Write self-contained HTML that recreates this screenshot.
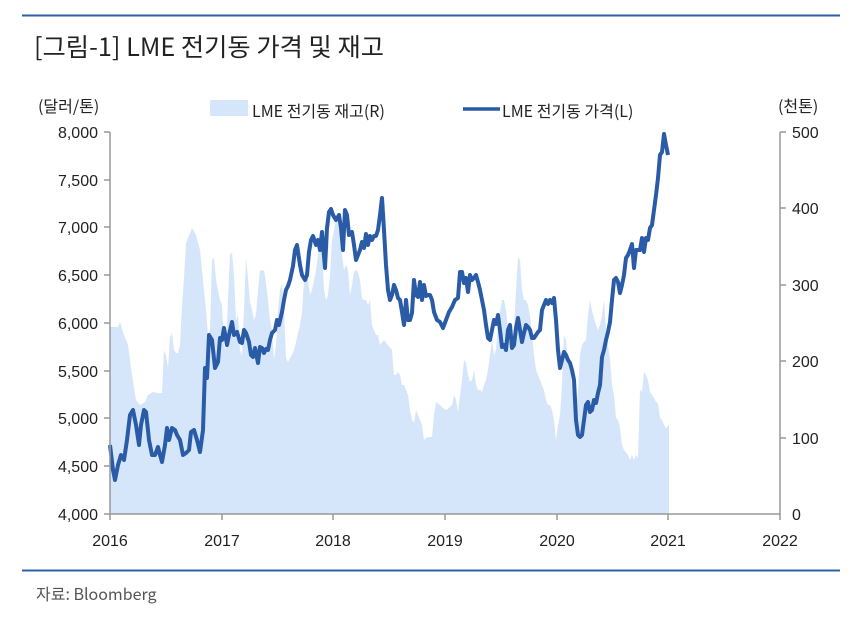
<!DOCTYPE html>
<html><head><meta charset="utf-8"><style>
body{margin:0;background:#fff;}
svg text{font-family:"Liberation Sans","Noto Sans CJK KR",sans-serif;fill:#222;}
</style></head><body>
<svg width="864" height="621" viewBox="0 0 864 621" xmlns="http://www.w3.org/2000/svg">
<line x1="22" y1="15.5" x2="840" y2="15.5" stroke="#2e5fa6" stroke-width="2"/>
<line x1="22" y1="570.5" x2="840" y2="570.5" stroke="#2e5fa6" stroke-width="2"/>
<text x="34" y="56" font-size="25" style="font-family:'Noto Sans CJK KR',sans-serif" textLength="350" lengthAdjust="spacingAndGlyphs">[그림-1] LME 전기동 가격 및 재고</text>
<text x="36" y="600" font-size="16" fill="#555" style="fill:#555;font-family:'Noto Sans CJK KR',sans-serif">자료: Bloomberg</text>
<text x="38" y="112" font-size="16" style="font-family:'Noto Sans CJK KR',sans-serif">(달러/톤)</text>
<text x="778" y="112" font-size="16" style="font-family:'Noto Sans CJK KR',sans-serif">(천톤)</text>
<rect x="210" y="100" width="38" height="16" fill="#d5e6fb"/>
<text x="252" y="117" font-size="16" style="font-family:'Noto Sans CJK KR',sans-serif">LME 전기동 재고(R)</text>
<line x1="463" y1="109" x2="500" y2="109" stroke="#2a5ba6" stroke-width="3.5"/>
<text x="502" y="117" font-size="16" style="font-family:'Noto Sans CJK KR',sans-serif">LME 전기동 가격(L)</text>
<polygon fill="#d5e6fb" points="110,514 110,327 118,327 120,322 124,335 128,345 132,375 136,400 140,405 145,402 148,395 153,392 158,393 162,393 164,350 166,355 168,368 170,337 172,333 174,350 176,353 178,353 180,345 182,305 184,278 186,243 188,238 192,228 196,235 200,250 203,280 206,310 208,335 210,330 212,260 214,258 216,280 218,290 220,300 222,305 224,345 226,350 228,298 230,255 232,252 234,275 236,320 238,315 240,350 242,355 244,310 246,258 248,278 250,302 252,310 254,320 256,315 258,290 260,270 262,271 264,270 266,283 268,300 270,320 272,330 274,360 276,345 278,310 280,290 282,283 284,310 286,358 288,362 290,358 292,355 294,350 296,342 298,333 300,325 302,312 304,280 306,270 308,280 310,295 312,290 314,280 316,270 318,255 320,232 322,250 324,290 326,300 328,295 330,275 332,240 334,230 336,220 338,222 340,225 342,255 344,270 346,265 348,270 350,295 352,285 354,272 356,270 358,272 360,280 362,298 364,300 366,300 368,305 370,300 372,325 374,330 376,335 378,335 380,345 384,340 388,345 392,350 394,375 396,375 398,372 400,375 402,385 404,385 406,390 408,395 410,410 412,420 414,423 416,410 418,415 420,420 422,425 424,440 426,438 428,437 432,437 434,415 436,402 440,405 443,408 446,410 449,408 452,405 454,395 456,400 458,412 460,395 462,380 464,360 466,362 468,375 470,382 472,380 474,370 476,385 478,390 480,390 482,392 484,385 486,380 488,370 490,355 492,340 494,355 496,350 498,325 500,312 502,300 504,300 506,310 508,330 510,340 512,350 514,330 516,290 518,258 520,260 522,290 524,300 526,300 528,305 530,315 532,335 534,355 536,370 538,375 540,380 542,385 544,390 546,400 548,405 550,405 552,410 554,420 556,440 558,425 560,415 562,385 564,335 566,340 568,360 570,365 572,390 574,400 576,410 578,390 580,355 582,345 584,342 586,340 588,315 590,300 592,310 594,318 596,325 598,330 600,325 602,315 604,300 606,330 608,345 610,360 612,385 614,395 616,418 618,420 620,428 622,445 624,450 628,455 630,460 632,455 634,460 636,455 638,458 640,390 642,392 644,372 646,375 648,380 650,392 652,395 654,398 656,402 658,403 660,418 662,420 664,425 666,428 669,425 669,514"/>
<polyline fill="none" stroke="#2a5ba6" stroke-width="4" stroke-linejoin="round" points="110,445 113,470 115,480 118,465 121,455 124,460 127,440 130,415 133,410 136,425 139,445 141,425 144,410 146,412 149,440 152,455 155,455 158,447 160,455 162,462 165,445 167,428 169,440 172,428 175,430 177,435 180,440 183,455 186,453 189,450 191,432 194,430 197,440 200,452 203,430 205,368 207,378 209,335 212,340 215,368 218,362 220,338 222,340 224,328 227,345 229,335 232,322 234,335 237,332 240,342 242,343 244,330 246,333 249,342 251,355 253,357 255,348 258,363 260,347 262,348 264,353 266,349 268,350 270,340 272,333 275,330 277,320 279,325 282,312 284,300 286,290 288,286 290,280 293,266 295,250 297,245 300,265 302,275 305,280 307,275 309,252 311,240 313,236 316,245 318,240 320,250 322,232 325,268 327,228 329,212 331,209 333,215 336,220 339,215 341,228 343,250 345,210 347,215 349,235 352,232 354,245 356,260 358,255 360,250 362,242 364,248 366,234 368,245 370,236 372,240 374,236 376,236 378,230 380,215 382,198 384,230 386,265 388,290 390,300 392,295 394,285 396,290 398,298 400,300 402,312 404,325 406,300 408,320 410,320 412,313 414,280 416,295 418,297 420,282 422,300 424,285 426,296 428,295 430,295 432,300 434,312 437,320 440,322 443,328 446,320 449,312 452,307 455,300 458,298 460,272 462,272 464,283 466,278 468,292 470,275 472,280 474,278 476,275 478,282 480,290 482,300 484,310 486,325 488,338 490,340 492,330 494,320 496,324 498,315 500,330 502,347 504,345 506,350 508,330 510,325 512,348 514,345 516,328 518,318 520,330 522,342 524,333 526,325 528,327 530,330 532,338 534,338 536,335 538,332 540,330 542,310 544,305 546,300 548,304 550,300 552,303 554,298 556,320 558,350 560,368 562,360 564,352 566,355 568,360 570,363 572,370 574,380 576,420 578,435 580,437 582,435 584,420 586,405 588,402 590,412 592,410 594,400 596,403 598,393 600,385 602,357 604,350 606,340 608,332 610,322 612,300 614,280 616,278 618,282 620,293 622,285 624,275 626,258 628,255 630,250 632,244 634,268 636,250 638,250 640,250 642,238 644,252 646,238 648,240 650,228 652,225 654,210 656,195 658,178 660,155 662,152 664,134 666,145 668,155"/>
<g stroke="#999" stroke-width="1.5" fill="none">
<path d="M110,132 V514 H780 V132"/>
<path d="M104,132H110 M104,180H110 M104,227H110 M104,275H110 M104,323H110 M104,371H110 M104,418H110 M104,466H110 M104,514H110"/>
<path d="M780,132H786 M780,208H786 M780,285H786 M780,361H786 M780,438H786"/>
<path d="M110,514V520 M222,514V520 M333,514V520 M445,514V520 M557,514V520 M668,514V520 M780,514V520"/>
</g>
<g font-size="16" text-anchor="end">
<text x="98" y="138">8,000</text><text x="98" y="186">7,500</text><text x="98" y="233">7,000</text><text x="98" y="281">6,500</text><text x="98" y="329">6,000</text><text x="98" y="377">5,500</text><text x="98" y="424">5,000</text><text x="98" y="472">4,500</text><text x="98" y="520">4,000</text>
</g>
<g font-size="16">
<text x="792" y="138">500</text><text x="792" y="214">400</text><text x="792" y="291">300</text><text x="792" y="367">200</text><text x="792" y="444">100</text><text x="792" y="520">0</text>
</g>
<g font-size="16" text-anchor="middle">
<text x="110" y="546">2016</text><text x="222" y="546">2017</text><text x="333" y="546">2018</text><text x="445" y="546">2019</text><text x="557" y="546">2020</text><text x="668" y="546">2021</text><text x="780" y="546">2022</text>
</g>
</svg>
</body></html>
